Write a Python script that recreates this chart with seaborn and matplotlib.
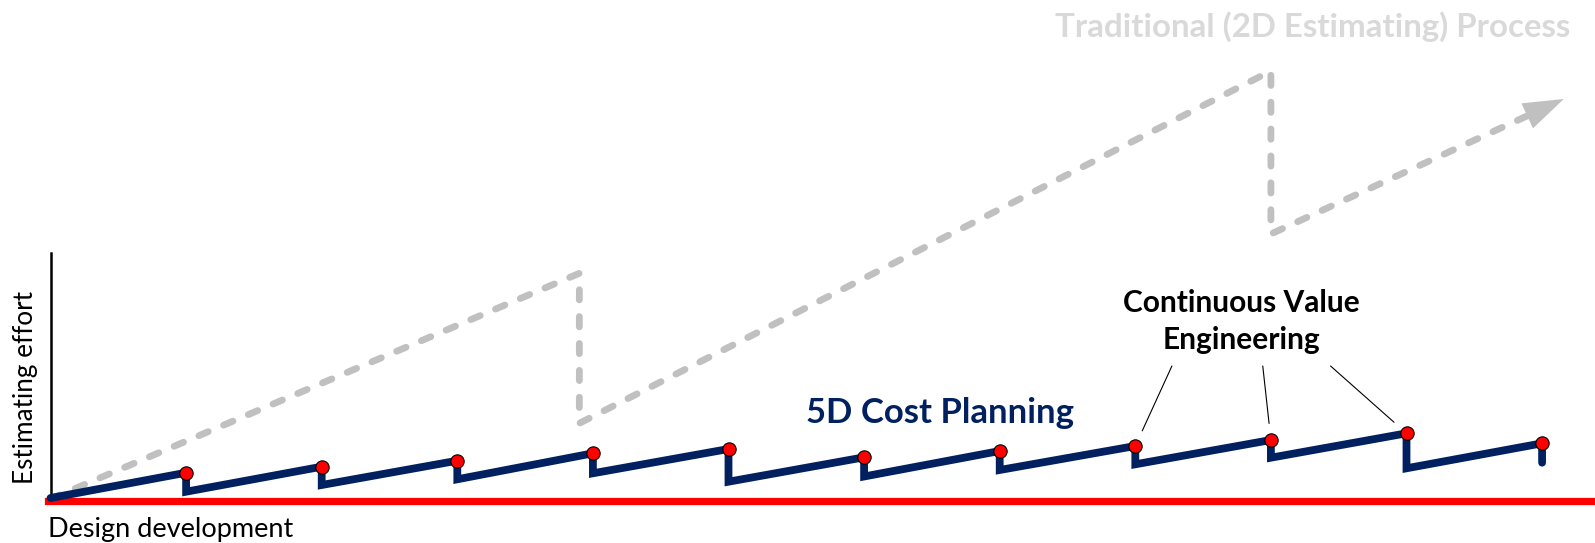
import numpy as np
import pandas as pd
import matplotlib
matplotlib.use("Agg")
import matplotlib.pyplot as plt
import seaborn as sns

# ---- data -------------------------------------------------------------
# 5D cost planning: estimating effort at each design stage (peak) and
# after each value-engineering reset
stage = [1, 2, 3, 4, 5, 6, 7, 8, 9, 10, 11]
peak_effort = [26.3, 32.3, 38.3, 45.7, 50.0, 41.7, 48.0, 53.0, 59.0, 65.7, 55.7]
reset_effort = [7.3, 14.0, 19.7, 25.7, 17.3, 22.5, 29.0, 34.7, 41.3, 30.7, 36.3]
start_effort = 1.0

# Traditional (2D estimating) process
trad_stage = [0.0, 3.9, 3.9, 9.0, 9.0, 11.16]
trad_effort = [0.0, 225.7, 75.7, 428.0, 265.0, 400.0]

# value-engineering callouts point at these stages
callout_stage = [8, 9, 10]

# ---- styling ----------------------------------------------------------
NAVY = "#002060"
RED = "#ff0000"
GREY = "#c0c0c0"
TITLE_GREY = "#d9d9d9"

sns.set_theme(style="white")
plt.rcParams["font.family"] = ["Lato", "DejaVu Sans"]

W, H = 1595, 543
fig = plt.figure(figsize=(W / 100, H / 100), dpi=100)
ax = fig.add_axes([0, 0, 1, 1])

# x: one unit per design stage, y: effort units
x0_px, xunit_px, y0_px = 50.5, 135.6, 499.0
ax.set_xlim(-x0_px / xunit_px, (W - x0_px) / xunit_px)
ax.set_ylim(-(H - y0_px), y0_px)

# ---- traditional process (grey dashed saw-tooth with arrow) -----------
trad = pd.DataFrame({"stage": trad_stage, "effort": trad_effort})
sns.lineplot(data=trad, x="stage", y="effort", sort=False, estimator=None,
             color=GREY, lw=4.9, ax=ax, zorder=2)
gl = ax.lines[-1]
gl.set_dashes((1.5, 2.45))
gl.set_dash_capstyle("round")
gl.set_solid_capstyle("round")
ax.annotate("", xy=(trad_stage[-1], trad_effort[-1]),
            xytext=(trad_stage[-2], trad_effort[-2]),
            arrowprops=dict(arrowstyle="-|>,head_length=2.9,head_width=0.99",
                            mutation_scale=10, color=GREY, lw=0,
                            shrinkA=0, shrinkB=0),
            zorder=2)

# ---- 5D cost planning (navy saw-tooth) ---------------------------------
path_x, path_y = [0.0], [start_effort]
for s, p, r in zip(stage, peak_effort, reset_effort):
    path_x += [s, s]
    path_y += [p, r]
cost = pd.DataFrame({"stage": path_x, "effort": path_y})
sns.lineplot(data=cost, x="stage", y="effort", sort=False, estimator=None,
             color=NAVY, lw=5.6, ax=ax, zorder=3)
nl = ax.lines[-1]
nl.set_solid_capstyle("round")
nl.set_solid_joinstyle("miter")

sns.scatterplot(x=stage, y=peak_effort, s=92, color=RED, edgecolor="black",
                linewidth=0.8, ax=ax, zorder=4)

# ---- axes: black effort axis, red design-development axis -------------
ax.set_xticks([])
ax.set_yticks([])
ax.set_xlabel("")
ax.set_ylabel("")
for side in ("top", "right"):
    ax.spines[side].set_visible(False)
ax.spines["left"].set_position(("data", 0))
ax.spines["left"].set_bounds(0, 246)
ax.spines["left"].set_color("black")
ax.spines["left"].set_linewidth(1.8)
ax.spines["bottom"].set_position(("data", -1.5))
ax.spines["bottom"].set_bounds(-0.02, ax.get_xlim()[1])
ax.spines["bottom"].set_color(RED)
ax.spines["bottom"].set_linewidth(5.2)
ax.spines["bottom"].set_zorder(2.5)

# ---- labels -----------------------------------------------------------
ax.text(-0.018, -37.7, "Design development", fontsize=19.5, color="black",
        ha="left", va="baseline", clip_on=False)
ax.text(-0.127, 112, "Estimating effort", fontsize=18.8, color="black",
        rotation=90, rotation_mode="anchor", ha="center", va="baseline",
        clip_on=False)

ax.text(11.21, 462.3, "Traditional (2D Estimating) Process", ha="right",
        va="baseline", fontsize=23.8, fontweight="bold", color=TITLE_GREY)
ax.text(6.56, 76, "5D Cost Planning", ha="center", va="baseline",
        fontsize=25, fontweight="bold", color=NAVY)
ax.text(8.78, 187.3, "Continuous Value", ha="center", va="baseline",
        fontsize=21.5, fontweight="bold", color="black")
ax.text(8.78, 150, "Engineering", ha="center", va="baseline",
        fontsize=21.5, fontweight="bold", color="black")

# callout leaders from the label to the value-engineering points
leader_start = {8: (8.27, 133), 9: (8.94, 133), 10: (9.44, 133)}
for s in callout_stage:
    i = stage.index(s)
    ax.annotate("", xy=(stage[i], peak_effort[i]), xytext=leader_start[s],
                arrowprops=dict(arrowstyle="-", color="black", lw=0.8,
                                shrinkA=0, shrinkB=12))

fig.savefig("out.png", dpi=100)
